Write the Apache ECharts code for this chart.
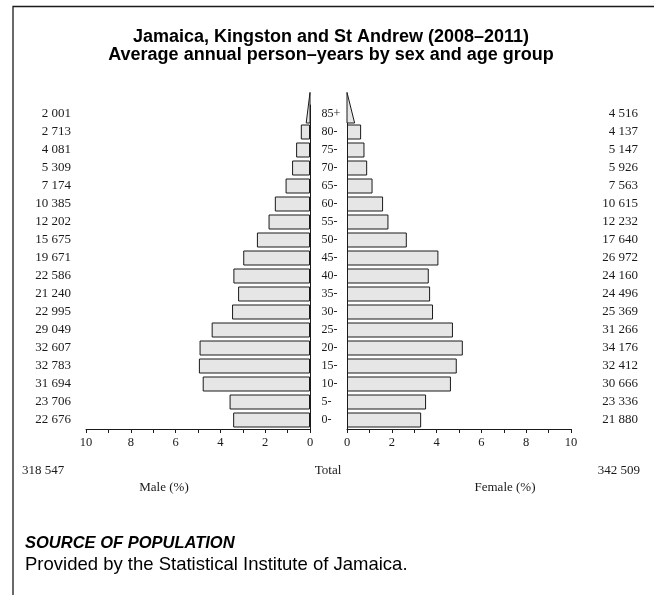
<!DOCTYPE html>
<html>
<head>
<meta charset="utf-8">
<script src="https://cdn.jsdelivr.net/npm/echarts@6/dist/echarts.min.js"></script>
<style>
html,body{margin:0;padding:0;background:#fff;}
#chart{width:654px;height:595px;}
</style>
</head>
<body>
<div id="chart"></div>
<script>
// ---- data ----
const ageGroups = ['0-','5-','10-','15-','20-','25-','30-','35-','40-','45-','50-','55-','60-','65-','70-','75-','80-','85+'];
const maleCounts = [22676,23706,31694,32783,32607,29049,22995,21240,22586,19671,15675,12202,10385,7174,5309,4081,2713,2001];
const femaleCounts = [21880,23336,30666,32412,34176,31266,25369,24496,24160,26972,17640,12232,10615,7563,5926,5147,4137,4516];
// percent of total population, 0- to 80-
const malePct = [3.43,3.59,4.79,4.96,4.93,4.39,3.48,3.21,3.42,2.98,2.37,1.85,1.57,1.09,0.80,0.62,0.41];
const femalePct = [3.31,3.53,4.64,4.90,5.17,4.73,3.84,3.71,3.65,4.08,2.67,1.85,1.61,1.14,0.90,0.78,0.63];
// open-ended 85+ group drawn as a triangle (base width as read, %)
const maleOpen = 0.17;
const femaleOpen = 0.34;
const maleTotal = 318547;
const femaleTotal = 342509;
const xTicks = [0,2,4,6,8,10];

const fmt = (n) => String(n).replace(/\B(?=(\d{3})+(?!\d))/g, ' ');
const SERIF = '"Liberation Serif","DejaVu Serif",serif';
const SANS = '"Liberation Sans",Arial,sans-serif';
const INK = '#1a1a1a';

const chart = echarts.init(document.getElementById('chart'), null, {renderer:'canvas'});

const gridTop = 105, gridBottom = 595 - 429;

function xAxisCfg(gi, inverse) {
  return {
    gridIndex: gi, type: 'value', min: xTicks[0], max: xTicks[xTicks.length-1], interval: 2, inverse: inverse,
    axisLine: {show: true, onZero: false, lineStyle: {color: INK, width: 1}},
    axisTick: {show: true, length: 4, lineStyle: {color: INK}},
    minorTick: {show: true, splitNumber: 2, length: 4, lineStyle: {color: INK}},
    splitLine: {show: false},
    axisLabel: {fontFamily: SERIF, fontSize: 12.5, color: INK, margin: 7}
  };
}

function triangle() {
  return function (params, api) {
    const v = api.value(0), c = api.value(1);
    const p = api.coord([v, c]);
    const b = api.coord([0, c]);
    const band = api.size([0, 1])[1];
    const top = p[1] - band * 1.2;
    const bot = p[1] + band * 0.5;
    return {
      type: 'polygon',
      shape: {points: [[b[0], top], [b[0], bot], [p[0], bot]]},
      style: {fill: '#e6e6e6', stroke: INK, lineWidth: 1}
    };
  };
}

const maleData = malePct.concat(['-']);
const femaleData = femalePct.concat(['-']);

const option = {
  animation: false,
  backgroundColor: '#fff',
  grid: [
    {left: 86, width: 224, top: gridTop, bottom: gridBottom, containLabel: false},
    {left: 347, width: 224, top: gridTop, bottom: gridBottom, containLabel: false}
  ],
  xAxis: [xAxisCfg(0, true), xAxisCfg(1, false)],
  yAxis: [
    {gridIndex: 0, type: 'category', data: ageGroups, position: 'right',
     axisLine: {show: true, onZero: false, lineStyle: {color: INK}}, axisTick: {show: false},
     axisLabel: {margin: 11.5, align: 'left', fontFamily: SERIF, fontSize: 12, color: INK, interval: 0}},
    {gridIndex: 0, type: 'category', data: ageGroups, position: 'left',
     axisLine: {show: false}, axisTick: {show: false},
     axisLabel: {margin: 15, fontFamily: SERIF, fontSize: 13, color: INK, interval: 0,
       formatter: (v, i) => fmt(maleCounts[i])}},
    {gridIndex: 1, type: 'category', data: ageGroups, position: 'left',
     axisLine: {show: true, onZero: false, lineStyle: {color: INK}}, axisTick: {show: false},
     axisLabel: {show: false}},
    {gridIndex: 1, type: 'category', data: ageGroups, position: 'right',
     axisLine: {show: false}, axisTick: {show: false},
     axisLabel: {margin: 67, align: 'right', fontFamily: SERIF, fontSize: 13, color: INK, interval: 0,
       formatter: (v, i) => fmt(femaleCounts[i])}}
  ],
  series: [
    {type: 'bar', xAxisIndex: 0, yAxisIndex: 0, data: maleData, barWidth: 15,
     itemStyle: {color: '#e6e6e6', borderColor: INK, borderWidth: 1}},
    {type: 'bar', xAxisIndex: 1, yAxisIndex: 2, data: femaleData, barWidth: 15,
     itemStyle: {color: '#e6e6e6', borderColor: INK, borderWidth: 1}},
    {type: 'custom', xAxisIndex: 0, yAxisIndex: 0, clip: false, renderItem: triangle(),
     data: [[maleOpen, ageGroups.length - 1]], encode: {x: 0, y: 1}},
    {type: 'custom', xAxisIndex: 1, yAxisIndex: 2, clip: false, renderItem: triangle(),
     data: [[femaleOpen, ageGroups.length - 1]], encode: {x: 0, y: 1}}
  ],
  graphic: [
    {type: 'polyline', shape: {points: [[13, 595], [13, 6.5], [654, 6.5]]}, style: {stroke: INK, lineWidth: 1.3, fill: null}, silent: true},
    {type: 'text', x: 331, y: 37, style: {text: 'Jamaica, Kingston and St Andrew (2008\u20132011)', font: 'bold 18px ' + SANS, fill: '#000', textAlign: 'center', textVerticalAlign: 'middle'}},
    {type: 'text', x: 331, y: 55, style: {text: 'Average annual person\u2013years by sex and age group', font: 'bold 18px ' + SANS, fill: '#000', textAlign: 'center', textVerticalAlign: 'middle'}},
    {type: 'text', x: 22, y: 471, style: {text: fmt(maleTotal), font: '13px ' + SERIF, fill: INK, textAlign: 'left', textVerticalAlign: 'middle'}},
    {type: 'text', x: 328, y: 471, style: {text: 'Total', font: '13px ' + SERIF, fill: INK, textAlign: 'center', textVerticalAlign: 'middle'}},
    {type: 'text', x: 640, y: 471, style: {text: fmt(femaleTotal), font: '13px ' + SERIF, fill: INK, textAlign: 'right', textVerticalAlign: 'middle'}},
    {type: 'text', x: 164, y: 488, style: {text: 'Male (%)', font: '13px ' + SERIF, fill: INK, textAlign: 'center', textVerticalAlign: 'middle'}},
    {type: 'text', x: 505, y: 488, style: {text: 'Female (%)', font: '13px ' + SERIF, fill: INK, textAlign: 'center', textVerticalAlign: 'middle'}},
    {type: 'text', x: 25, y: 543, style: {text: 'SOURCE OF POPULATION', font: 'italic bold 16.5px ' + SANS, fill: '#000', textAlign: 'left', textVerticalAlign: 'middle'}},
    {type: 'text', x: 25, y: 565, style: {text: 'Provided by the Statistical Institute of Jamaica.', font: '18.5px ' + SANS, fill: '#000', textAlign: 'left', textVerticalAlign: 'middle'}}
  ]
};
chart.setOption(option);
</script>
</body>
</html>
